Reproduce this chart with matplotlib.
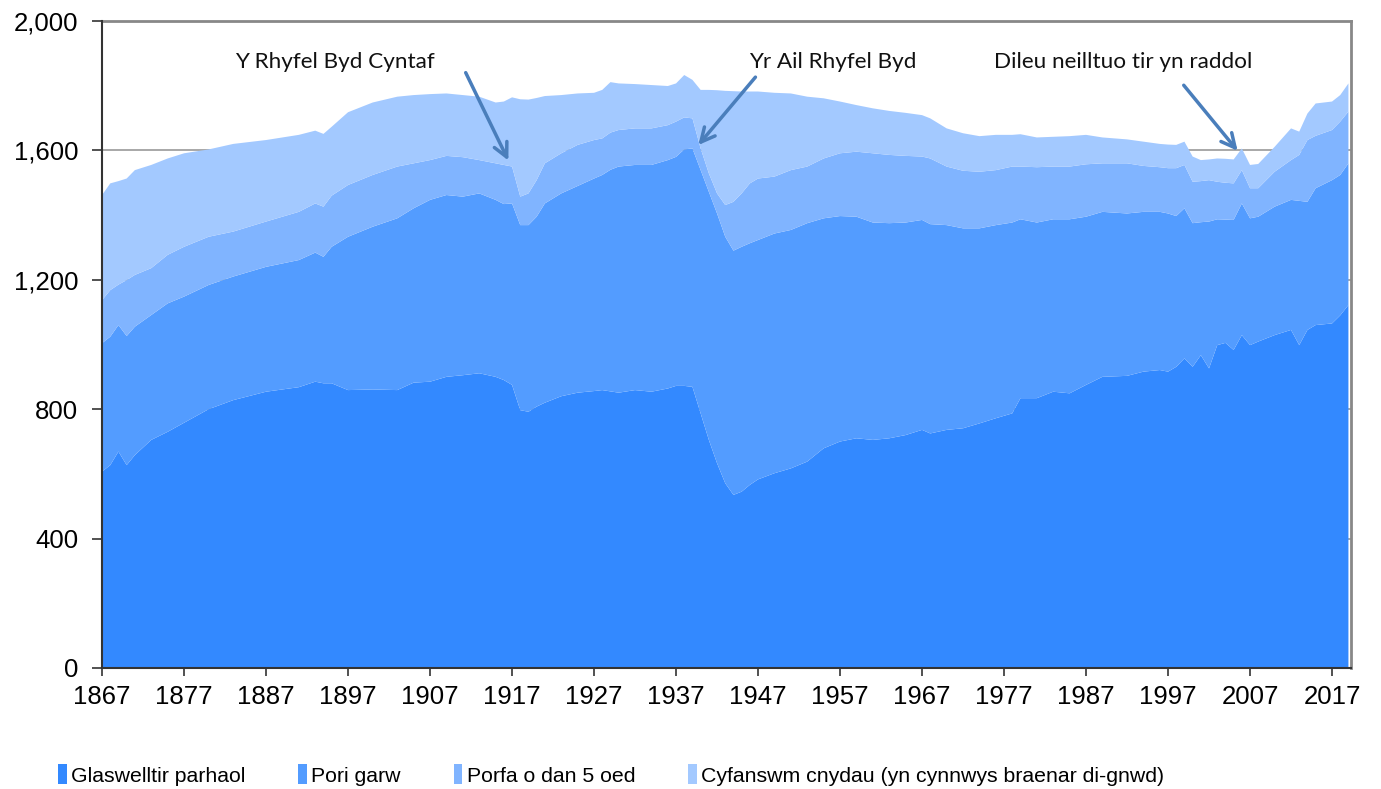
import matplotlib
matplotlib.use("Agg")
import matplotlib.pyplot as plt
from matplotlib.patches import Patch
from matplotlib.ticker import FuncFormatter

# land use in Wales, thousand hectares
years = [1867, 1868, 1869, 1870, 1871, 1873, 1875, 1877, 1880, 1883, 1887, 1891, 1893, 1894, 1895,
         1897, 1900, 1903, 1905, 1907, 1909, 1911, 1913, 1915, 1916, 1917, 1918, 1919, 1920, 1921,
         1923, 1925, 1927, 1928, 1929, 1930, 1932, 1934, 1936, 1937, 1938, 1939, 1940, 1941, 1942,
         1943, 1944, 1945, 1946, 1947, 1949, 1951, 1953, 1955, 1957, 1959, 1961, 1963, 1965, 1967,
         1968, 1970, 1972, 1974, 1976, 1978, 1979, 1981, 1983, 1985, 1987, 1989, 1992, 1994, 1996,
         1997, 1998, 1999, 2000, 2001, 2002, 2003, 2004, 2005, 2006, 2007, 2008, 2010, 2012, 2013,
         2014, 2015, 2017, 2018, 2019]

glaswelltir = [607, 627, 669, 627, 658, 705, 730, 758, 800, 828, 854, 868, 885, 880, 880,
               859, 861, 859, 882, 885, 900, 905, 911, 900, 890, 875, 797, 792, 808, 820,
               840, 851, 856, 859, 855, 851, 859, 854, 864, 872, 872, 869, 787, 705, 633,
               571, 535, 545, 566, 583, 602, 617, 638, 679, 700, 710, 705, 710, 720, 736,
               725, 736, 741, 756, 772, 787, 834, 834, 854, 849, 875, 900, 903, 916, 921,
               916, 931, 957, 931, 967, 926, 998, 1005, 983, 1029, 998, 1009, 1029, 1045, 998,
               1045, 1060, 1065, 1090, 1122]

pori_garw = [397, 397, 391, 399, 397, 386, 397, 390, 384, 382, 386, 393, 399, 391, 422,
             474, 503, 531, 539, 562, 562, 552, 556, 547, 544, 561, 572, 577, 587, 616,
             627, 639, 657, 665, 685, 699, 696, 701, 706, 708, 731, 737, 752, 767, 772,
             762, 755, 757, 747, 740, 741, 737, 737, 711, 697, 685, 672, 665, 657, 649,
             647, 633, 618, 603, 597, 590, 553, 543, 533, 538, 520, 510, 502, 494, 489,
             489, 466, 464, 444, 411, 454, 389, 381, 402, 407, 392, 386, 397, 402, 446,
             396, 423, 443, 434, 438]

porfa = [133, 144, 125, 173, 160, 145, 150, 154, 149, 139, 140, 149, 152, 155, 158,
         160, 160, 160, 139, 123, 121, 122, 103, 113, 121, 114, 88, 98, 113, 124,
         124, 127, 119, 113, 115, 113, 113, 113, 108, 109, 99, 93, 67, 57, 62,
         98, 151, 165, 185, 190, 176, 185, 175, 185, 194, 201, 214, 211, 206, 196,
         203, 181, 178, 175, 170, 173, 163, 171, 163, 163, 162, 150, 155, 142, 138,
         140, 148, 134, 128, 127, 128, 116, 114, 113, 103, 93, 88, 108, 123, 142,
         191, 162, 155, 165, 160]

cnydau = [325, 330, 320, 314, 324, 319, 298, 289, 270, 271, 252, 238, 225, 225, 213,
          225, 224, 216, 211, 204, 193, 192, 196, 188, 196, 214, 301, 290, 254, 208,
          180, 159, 146, 150, 156, 144, 137, 134, 121, 118, 131, 119, 181, 258, 319,
          353, 342, 315, 284, 269, 259, 237, 216, 186, 160, 144, 139, 136, 133, 128,
          124, 118, 116, 110, 109, 98, 100, 92, 92, 94, 91, 80, 74, 75, 72,
          73, 72, 72, 78, 65, 64, 72, 74, 74, 67, 72, 75, 77, 98, 72,
          82, 100, 88, 82, 87]

labels = ["Glaswelltir parhaol", "Pori garw", "Porfa o dan 5 oed",
          "Cyfanswm cnydau (yn cynnwys braenar di-gnwd)"]
colors = ["#3389FF", "#539CFF", "#80B4FF", "#A3C9FF"]

y_ticks = [0, 400, 800, 1200, 1600, 2000]
x_ticks = list(range(1867, 2018, 10))

notes = ["Y Rhyfel Byd Cyntaf", "Yr Ail Rhyfel Byd", "Dileu neilltuo tir yn raddol"]

fig = plt.figure(figsize=(13.81, 7.89), dpi=100)
ax = fig.add_axes([0.0739, 0.1534, 0.9043, 0.8200])

ax.stackplot(years, glaswelltir, pori_garw, porfa, cnydau, colors=colors, linewidth=0, zorder=2)

ax.set_xlim(1867, 2019.3)
ax.set_ylim(0, 2000)
ax.set_yticks(y_ticks)
ax.yaxis.set_major_formatter(FuncFormatter(lambda v, p: format(int(v), ",")))
ax.set_xticks(x_ticks)
ax.grid(axis="y", color="#999999", linewidth=1.2, zorder=0)
ax.set_axisbelow(True)

for s in ["left", "bottom"]:
    ax.spines[s].set_color("#333333")
    ax.spines[s].set_linewidth(1.5)
for s in ["top", "right"]:
    ax.spines[s].set_color("#888888")
    ax.spines[s].set_linewidth(2)
ax.spines["left"].set_zorder(5)
ax.spines["bottom"].set_zorder(5)

ax.tick_params(axis="y", direction="out", length=7, width=1.2, color="#333333",
               labelsize=18.5, pad=10)
ax.tick_params(axis="x", direction="inout", length=12, width=1.2, color="#333333",
               labelsize=18.5, pad=6)
for t in ax.get_xticklabels() + ax.get_yticklabels():
    t.set_family("Liberation Sans")

# annotations with arrows
arrow_style = dict(arrowstyle="->", color="#4A7EBB", lw=2.5, mutation_scale=25)
ax.annotate("", xy=(1916.7, 1561), xytext=(1911.2, 1848), arrowprops=arrow_style, zorder=6)
ax.annotate("", xy=(1939.5, 1610), xytext=(1946.9, 1833), arrowprops=arrow_style, zorder=6)
ax.annotate("", xy=(2005.7, 1592), xytext=(1998.7, 1808), arrowprops=arrow_style, zorder=6)
ax.text(1895.4, 1873, notes[0], ha="center", va="center", fontsize=16.2, family="Lato",
        color="#111111", zorder=6)
ax.text(1956.1, 1873, notes[1], ha="center", va="center", fontsize=16.2, family="Lato",
        color="#111111", zorder=6)
ax.text(1991.5, 1873, notes[2], ha="center", va="center", fontsize=16.2, family="Lato",
        color="#111111", zorder=6)

handles = [Patch(facecolor=c, edgecolor="none") for c in colors]
leg = fig.legend(handles, labels, loc="center left", bbox_to_anchor=(0.036, 0.018),
                 ncol=4, frameon=False, handlelength=0.4, handleheight=1.1,
                 handletextpad=0.2, columnspacing=2.5, borderaxespad=0,
                 prop={"family": "Liberation Sans", "size": 15.3})

fig.savefig("out.png", dpi=100)
